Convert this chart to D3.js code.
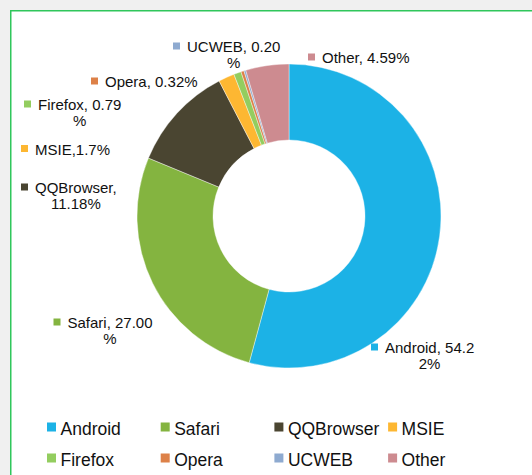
<!DOCTYPE html>
<html>
<head>
<meta charset="utf-8">
<script src="https://cdn.jsdelivr.net/npm/d3@7"></script>
<style>
  html, body { margin: 0; padding: 0; background: #f0f0f0; }
  svg { display: block; }
  text { font-family: "Liberation Sans", Arial, sans-serif; fill: #111; }
</style>
</head>
<body>
<svg id="chart" width="532" height="475"></svg>
<script>
// ---- data ----
const categories = ["Android", "Safari", "QQBrowser", "MSIE", "Firefox", "Opera", "UCWEB", "Other"];
const shares = [54.22, 27.00, 11.18, 1.7, 0.79, 0.32, 0.20, 4.59];
const labelTexts = [
  ["Android, 54.2", "2%"],
  ["Safari, 27.00", "%"],
  ["QQBrowser,", "11.18%"],
  ["MSIE,1.7%"],
  ["Firefox, 0.79", "%"],
  ["Opera, 0.32%"],
  ["UCWEB, 0.20", "%"],
  ["Other, 4.59%"]
];
const colors = ["#1cb2e6", "#84b440", "#4a4531", "#fdb732", "#93cd5f", "#dd8148", "#8eaad0", "#cd8b90"];

// label anchor positions (marker left, first baseline) – layout only
const labelPos = [
  [371, 353], [53.5, 328], [21, 193], [21, 154.5],
  [24, 110], [91, 87], [173, 52], [308, 63]
];

const svg = d3.select("#chart");
const W = 532, H = 475;

// frame
svg.append("rect").attr("x", 0).attr("y", 0).attr("width", W).attr("height", H).attr("fill", "#f0f0f0");
svg.append("rect").attr("x", 10.75).attr("y", 10.75).attr("width", 700).attr("height", 700)
  .attr("fill", "#ffffff").attr("stroke", "#2fc65b").attr("stroke-width", 1.5);

// donut
const cx = 289, cy = 216, rOuter = 152, rInner = 76;
const data = categories.map((c, i) => ({ name: c, value: shares[i], color: colors[i], lines: labelTexts[i], pos: labelPos[i] }));
const pie = d3.pie().value(d => d.value).sort(null).startAngle(0).endAngle(2 * Math.PI);
const arc = d3.arc().innerRadius(rInner).outerRadius(rOuter);

const g = svg.append("g").attr("transform", `translate(${cx},${cy})`);
g.selectAll("path").data(pie(data)).join("path")
  .attr("d", arc)
  .attr("fill", d => d.data.color)
  .attr("stroke", "#ffffff")
  .attr("stroke-width", 0.4);

// data labels
const labelFont = 15;
data.forEach(d => {
  const [mx, by] = d.pos;
  const lg = svg.append("g");
  lg.append("rect").attr("x", mx).attr("y", by - 9.5).attr("width", 7).attr("height", 7).attr("fill", d.color);
  const tx = mx + 14;
  const t1 = lg.append("text").attr("x", tx).attr("y", by).attr("font-size", labelFont).text(d.lines[0]);
  if (d.lines.length > 1) {
    const w = t1.node().getComputedTextLength();
    lg.append("text").attr("x", tx + w / 2).attr("y", by + 16).attr("font-size", labelFont)
      .attr("text-anchor", "middle").text(d.lines[1]);
  }
});

// legend
const legendFont = 17.5;
const colX = d3.scaleLinear().domain([0, 1]).range([47, 160.7]);
const rowY = d3.scaleLinear().domain([0, 1]).range([435, 466]);
const lgd = svg.append("g");
data.forEach((d, i) => {
  const col = i % 4, row = Math.floor(i / 4);
  const x = colX(col), y = rowY(row);
  lgd.append("rect").attr("x", x).attr("y", y - 12.5).attr("width", 9).attr("height", 9).attr("fill", d.color);
  lgd.append("text").attr("x", x + 13.5).attr("y", y).attr("font-size", legendFont).text(d.name);
});
</script>
</body>
</html>
